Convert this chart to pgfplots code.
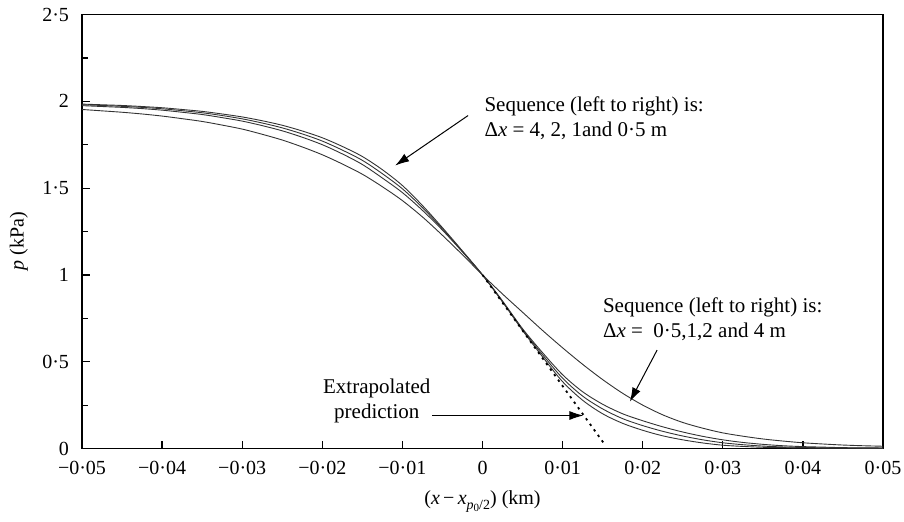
\documentclass[border=0pt]{standalone}
\usepackage{fontspec}
\setmainfont{Liberation Serif}
\usepackage{pgfplots}
\usepackage{pgfplotstable}
\pgfplotsset{compat=1.18}
\usetikzlibrary{arrows.meta}

% Pressure profiles p(x) for grid spacings of 4, 2, 1 and 0.5 m
\pgfplotstableread{
x        pA     pB     pC     pD
-0.05    1.953  1.975  1.980  1.984
-0.0475  1.945  1.970  1.976  1.980
-0.045   1.937  1.965  1.971  1.976
-0.0425  1.927  1.958  1.965  1.970
-0.04    1.915  1.949  1.957  1.963
-0.0375  1.900  1.937  1.946  1.953
-0.035   1.884  1.924  1.934  1.942
-0.0325  1.863  1.906  1.918  1.927
-0.03    1.840  1.886  1.899  1.910
-0.0275  1.810  1.860  1.875  1.888
-0.025   1.777  1.830  1.847  1.862
-0.0225  1.737  1.793  1.812  1.829
-0.02    1.692  1.750  1.771  1.790
-0.0175  1.639  1.697  1.719  1.740
-0.015   1.580  1.636  1.660  1.682
-0.0125  1.508  1.558  1.583  1.606
-0.01    1.428  1.474  1.496  1.515
-0.0075  1.334  1.372  1.388  1.400
-0.005   1.228  1.258  1.265  1.272
-0.0025  1.116  1.132  1.135  1.138
0        1.000  1.000  1.000  1.000
0.0025   0.890  0.850  0.845  0.845
0.005    0.785  0.690  0.685  0.680
0.0075   0.680  0.552  0.540  0.528
0.01     0.580  0.425  0.405  0.385
0.0125   0.485  0.327  0.302  0.278
0.015    0.397  0.255  0.228  0.200
0.0175   0.318  0.200  0.172  0.145
0.02     0.250  0.160  0.132  0.105
0.0225   0.194  0.125  0.099  0.073
0.025    0.150  0.095  0.072  0.050
0.0275   0.117  0.070  0.050  0.032
0.03     0.090  0.050  0.033  0.019
0.0325   0.071  0.035  0.022  0.012
0.035    0.055  0.024  0.014  0.007
0.0375   0.043  0.016  0.009  0.005
0.04     0.033  0.011  0.006  0.003
0.0425   0.026  0.008  0.004  0.002
0.045    0.020  0.005  0.003  0.0015
0.0475   0.016  0.004  0.0025 0.0012
0.05     0.013  0.003  0.002  0.001
}\profiles

% Extrapolated prediction (straight line)
\pgfplotstableread{
x       p
0       1.000
0.0152  0.027
}\extrap

\begin{document}
\begin{tikzpicture}
\path[use as bounding box] (-41pt,-36.65pt) rectangle (411pt,224.25pt);
\begin{axis}[
  at={(0,0)}, anchor=south west,
  scale only axis, width=400.5pt, height=217pt,
  xmin=-0.05, xmax=0.05, ymin=0, ymax=2.5,
  scaled x ticks=false, scaled y ticks=false,
  xtick={-0.05,-0.04,-0.03,-0.02,-0.01,0,0.01,0.02,0.03,0.04,0.05},
  xticklabels={−0·05,−0·04,−0·03,−0·02,−0·01,0,0·01,0·02,0·03,0·04,0·05},
  ytick={0,0.5,1,1.5,2,2.5},
  yticklabels={0,0·5,1,1·5,2,2·5},
  minor ytick={0.25,0.75,1.25,1.75,2.25},
  tick pos=left, tick align=inside,
  major tick length=4pt, minor tick length=3pt,
  axis line style={line width=0.7pt},
  every tick/.style={line width=0.6pt, black},
  ticklabel style={font=\fontsize{10}{12}\selectfont},
  xticklabel style={yshift=-3pt},
  yticklabel style={xshift=-3pt},
  label style={font=\fontsize{10}{12}\selectfont},
  xlabel={(\textit{x}\,−\,\textit{x}\raisebox{-0.5ex}{\fontsize{7}{8}\selectfont\textit{p}\raisebox{-0.4ex}{\fontsize{5.5}{6}\selectfont 0}/2}) (km)},
  xlabel style={at={(axis description cs:0.5,-0.122)}, anchor=center},
  ylabel={\textit{p} (kPa)},
  ylabel style={at={(axis description cs:-0.079,0.478)}, anchor=center},
]
\addplot[black!80, line width=0.45pt, smooth] table[x=x, y=pA] {\profiles};
\addplot[black!80, line width=0.45pt, smooth] table[x=x, y=pB] {\profiles};
\addplot[black!80, line width=0.45pt, smooth] table[x=x, y=pC] {\profiles};
\addplot[black!80, line width=0.45pt, smooth] table[x=x, y=pD] {\profiles};
\addplot[black, line width=0.9pt, dash pattern=on 1.2pt off 2.2pt] table[x=x, y=p] {\extrap};

% annotations
\node[anchor=west, align=left, inner sep=0pt,
      font=\fontsize{10.5}{12.5}\selectfont] at (axis cs:0.0002,1.903)
  {Sequence (left to right) is:\\Δ\textit{x} = 4, 2, 1and 0·5 m};
\draw[-{Latex[length=7pt,width=4.5pt]}, line width=0.5pt]
  (axis cs:-0.0018,1.918) -- (axis cs:-0.0109,1.630);

\node[anchor=west, align=left, inner sep=0pt,
      font=\fontsize{10.5}{12.5}\selectfont] at (axis cs:0.0150,0.742)
  {Sequence (left to right) is:\\Δ\textit{x} = \ 0·5,1,2 and 4 m};
\draw[-{Latex[length=7pt,width=4.5pt]}, line width=0.5pt]
  (axis cs:0.0218,0.567) -- (axis cs:0.0184,0.270);

\node[anchor=center, align=center, inner sep=0pt,
      font=\fontsize{10.5}{12.5}\selectfont] at (axis cs:-0.0132,0.272)
  {Extrapolated\\prediction};
\draw[-{Latex[length=7pt,width=4.5pt]}, line width=0.5pt]
  (axis cs:-0.0063,0.190) -- (axis cs:0.0126,0.190);
\end{axis}
\end{tikzpicture}
\end{document}
